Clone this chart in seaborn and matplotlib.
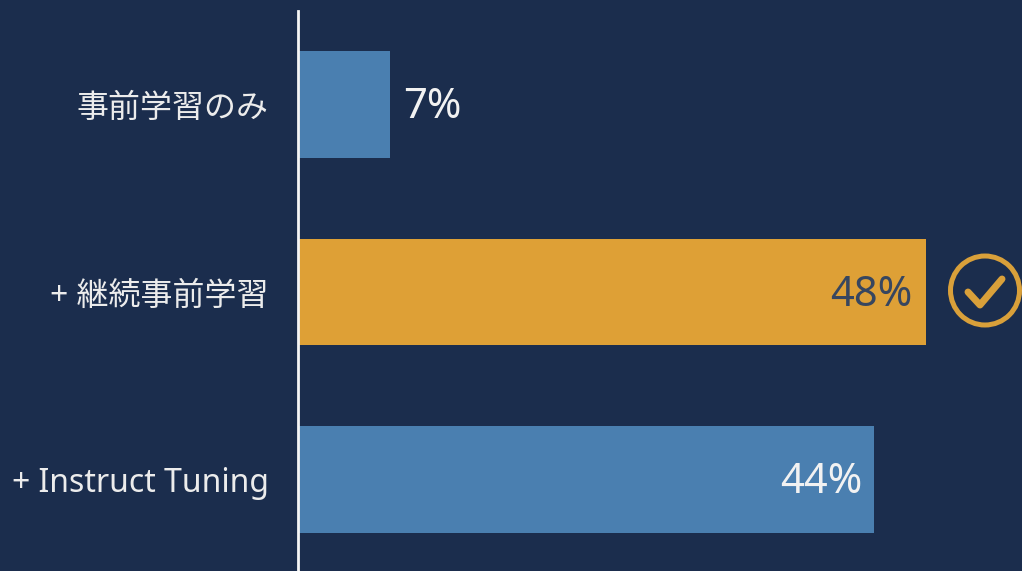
import matplotlib
matplotlib.use("Agg")
import matplotlib.pyplot as plt
from matplotlib.patches import Circle
import pandas as pd
import seaborn as sns

labels = ["事前学習のみ", "+ 継続事前学習", "+ Instruct Tuning"]
values = [7, 48, 44]
value_text = ["7%", "48%", "44%"]
bar_colors = ["#4a7fb0", "#dea036", "#4a7fb0"]
text_colors = ["#f2f2f2", "#37465f", "#f2f2f2"]
BG = "#1b2d4d"
GOLD = "#d9a03a"

sns.set_theme(style="dark")
plt.rcParams["font.family"] = ["Noto Sans", "Noto Sans CJK JP", "DejaVu Sans"]

fig = plt.figure(figsize=(10.22, 5.71), dpi=100, facecolor=BG)
ax = fig.add_axes([298 / 1022, 0, 724 / 1022, 1], facecolor=BG)

df = pd.DataFrame({"label": labels, "value": values})
sns.barplot(data=df, y="label", x="value", hue="label", palette=bar_colors,
            legend=False, width=0.57, saturation=1, ax=ax, linewidth=0)

# one percentage point spans about 13.08 px
ax.set_xlim(0, 724 / 13.08)
ax.set_ylim(2.488, -0.557)
ax.set_xlabel("")
ax.set_ylabel("")
ax.set_xticks([])
ax.set_yticks(range(3))
ax.set_yticklabels(labels, color="#ececec", fontsize=23)
ax.tick_params(axis="y", length=0, pad=21)
ax.grid(False)
for side in ["top", "right", "bottom"]:
    ax.spines[side].set_visible(False)
ax.spines["left"].set_color("#f5f5f5")
ax.spines["left"].set_linewidth(2)
ax.spines["left"].set_bounds(2.488, -0.5)

# value labels: outside the short bar, inside the long ones
ax.annotate(value_text[0], (values[0], 0), xytext=(10, -2), textcoords="offset points",
            color=text_colors[0], fontsize=30, fontweight="medium", va="center", ha="left")
for i, dx in ((1, -10), (2, -8)):
    ax.annotate(value_text[i], (values[i], i), xytext=(dx, -2), textcoords="offset points",
                color=text_colors[i], fontsize=30, va="center", ha="right")

# check badge beside the highlighted bar
overlay = fig.add_axes([0, 0, 1, 1], facecolor="none")
overlay.set_xlim(0, 1022)
overlay.set_ylim(571, 0)
overlay.axis("off")
overlay.add_patch(Circle((985, 290.5), 34.5, fill=False, ec=GOLD, lw=3.6))
overlay.plot([968, 980, 1002], [292, 305, 279], color=GOLD, lw=5,
             solid_capstyle="round", solid_joinstyle="round")

fig.savefig("out.png", dpi=100, facecolor=BG)
